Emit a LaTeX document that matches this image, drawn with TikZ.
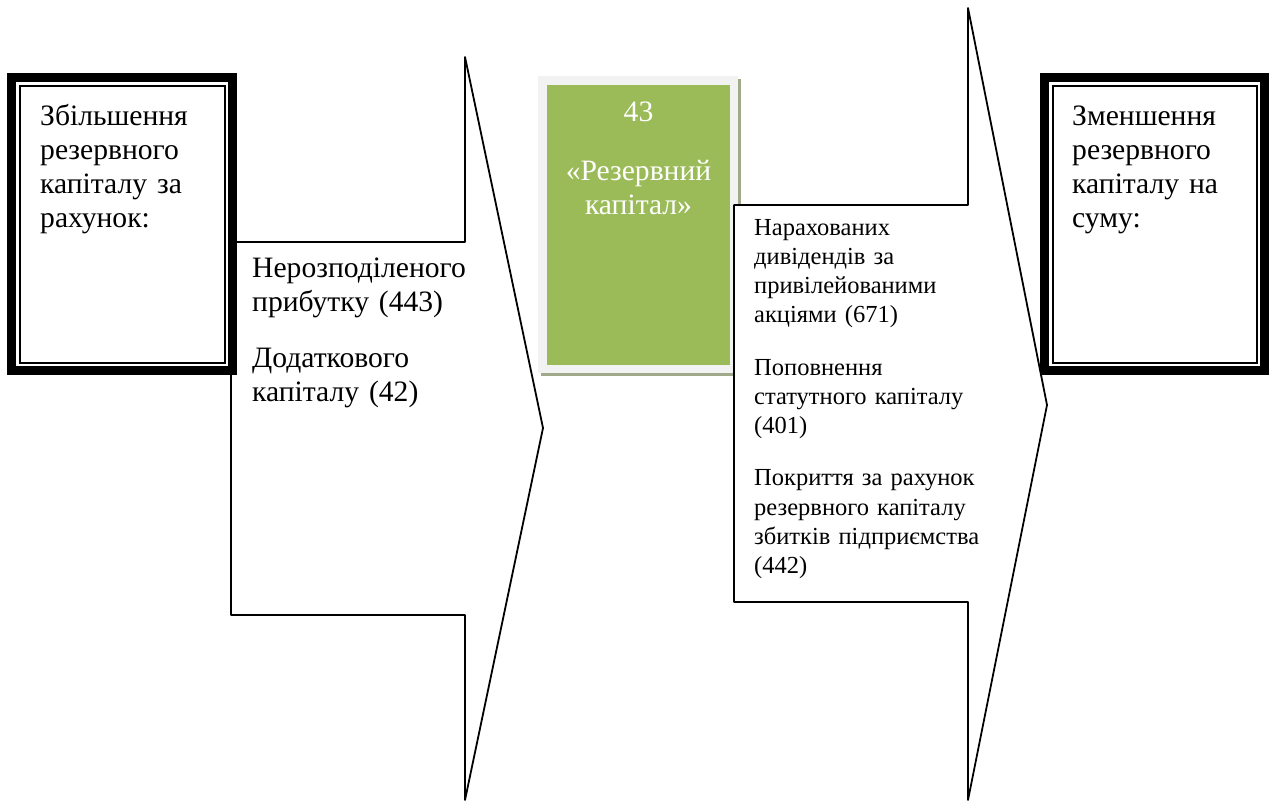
\documentclass[tikz,border=0pt]{standalone}
\usepackage{fontspec}
\setmainfont{Liberation Serif}
\definecolor{olivebox}{RGB}{155,187,89}
\definecolor{framegrey}{RGB}{242,242,242}
\definecolor{shadowc}{RGB}{160,170,138}
\begin{document}
\begin{tikzpicture}[x=1pt,y=-1pt,
  arrowshape/.style={draw=black, line width=1.8pt, fill=white, line join=round},
  thickband/.style={draw=black, line width=9pt},
  thinband/.style={draw=black, line width=2pt},
  bigtext/.style={font=\fontsize{29.6}{34.3}\selectfont, inner sep=0pt, anchor=base west, align=left, text width=225pt},
  smalltext/.style={font=\fontsize{24.5}{29.3}\selectfont, inner sep=0pt, anchor=base west, align=left, text width=225pt}]
\useasboundingbox (0,0) rectangle (1273,800);
% arrow 1
\coordinate (a1a) at (231,242);
\coordinate (a1b) at (465,242);
\coordinate (a1c) at (465,57);
\coordinate (a1tip) at (543,428);
\coordinate (a1d) at (465,800);
\coordinate (a1e) at (465,615);
\coordinate (a1f) at (231,615);
\draw[arrowshape] (a1a) -- (a1b) -- (a1c) -- (a1tip) -- (a1d) -- (a1e) -- (a1f) -- cycle;
% left box
\fill[white] (7,73) rectangle (237,375);
\draw[thickband] (11.5,77.5) rectangle (232.5,370.5);
\draw[thinband] (19.5,85.5) rectangle (224.5,362.5);
% green box
\fill[shadowc] (541,79) rectangle (741,376);
\fill[framegrey] (538,76) rectangle (738,373);
\fill[olivebox] (547,85) rectangle (730,365);
% arrow 2
\coordinate (a2a) at (734,205);
\coordinate (a2b) at (968,205);
\coordinate (a2c) at (968,8);
\coordinate (a2tip) at (1047,405);
\coordinate (a2d) at (968,800);
\coordinate (a2e) at (968,602);
\coordinate (a2f) at (734,602);
\draw[arrowshape] (a2a) -- (a2b) -- (a2c) -- (a2tip) -- (a2d) -- (a2e) -- (a2f) -- cycle;
% right box
\fill[white] (1040,73) rectangle (1269,375);
\draw[thickband] (1044.5,77.5) rectangle (1264.5,370.5);
\draw[thinband] (1052.5,85.5) rectangle (1256.5,362.5);
% texts
\node[bigtext] (inc) at (40,125) {Збільшення\\резервного\\капіталу за\\рахунок:};
\node[bigtext] (incitems) at (252,277) {Нерозподіленого\\прибутку (443)\\[21.7pt]Додаткового\\капіталу (42)};
\node[bigtext, text=white, align=center, anchor=base, text width=183pt] (acct) at (638.5,121) {43\\[24.7pt]«Резервний\\капітал»};
\node[smalltext] (decitems) at (754,235) {Нарахованих\\дивідендів за\\привілейованими\\акціями (671)\\[22.8pt]Поповнення\\статутного капіталу\\(401)\\[22.8pt]Покриття за рахунок\\резервного капіталу\\збитків підприємства\\(442)};
\node[bigtext] (dec) at (1072,125) {Зменшення\\резервного\\капіталу на\\суму:};
\end{tikzpicture}
\end{document}
